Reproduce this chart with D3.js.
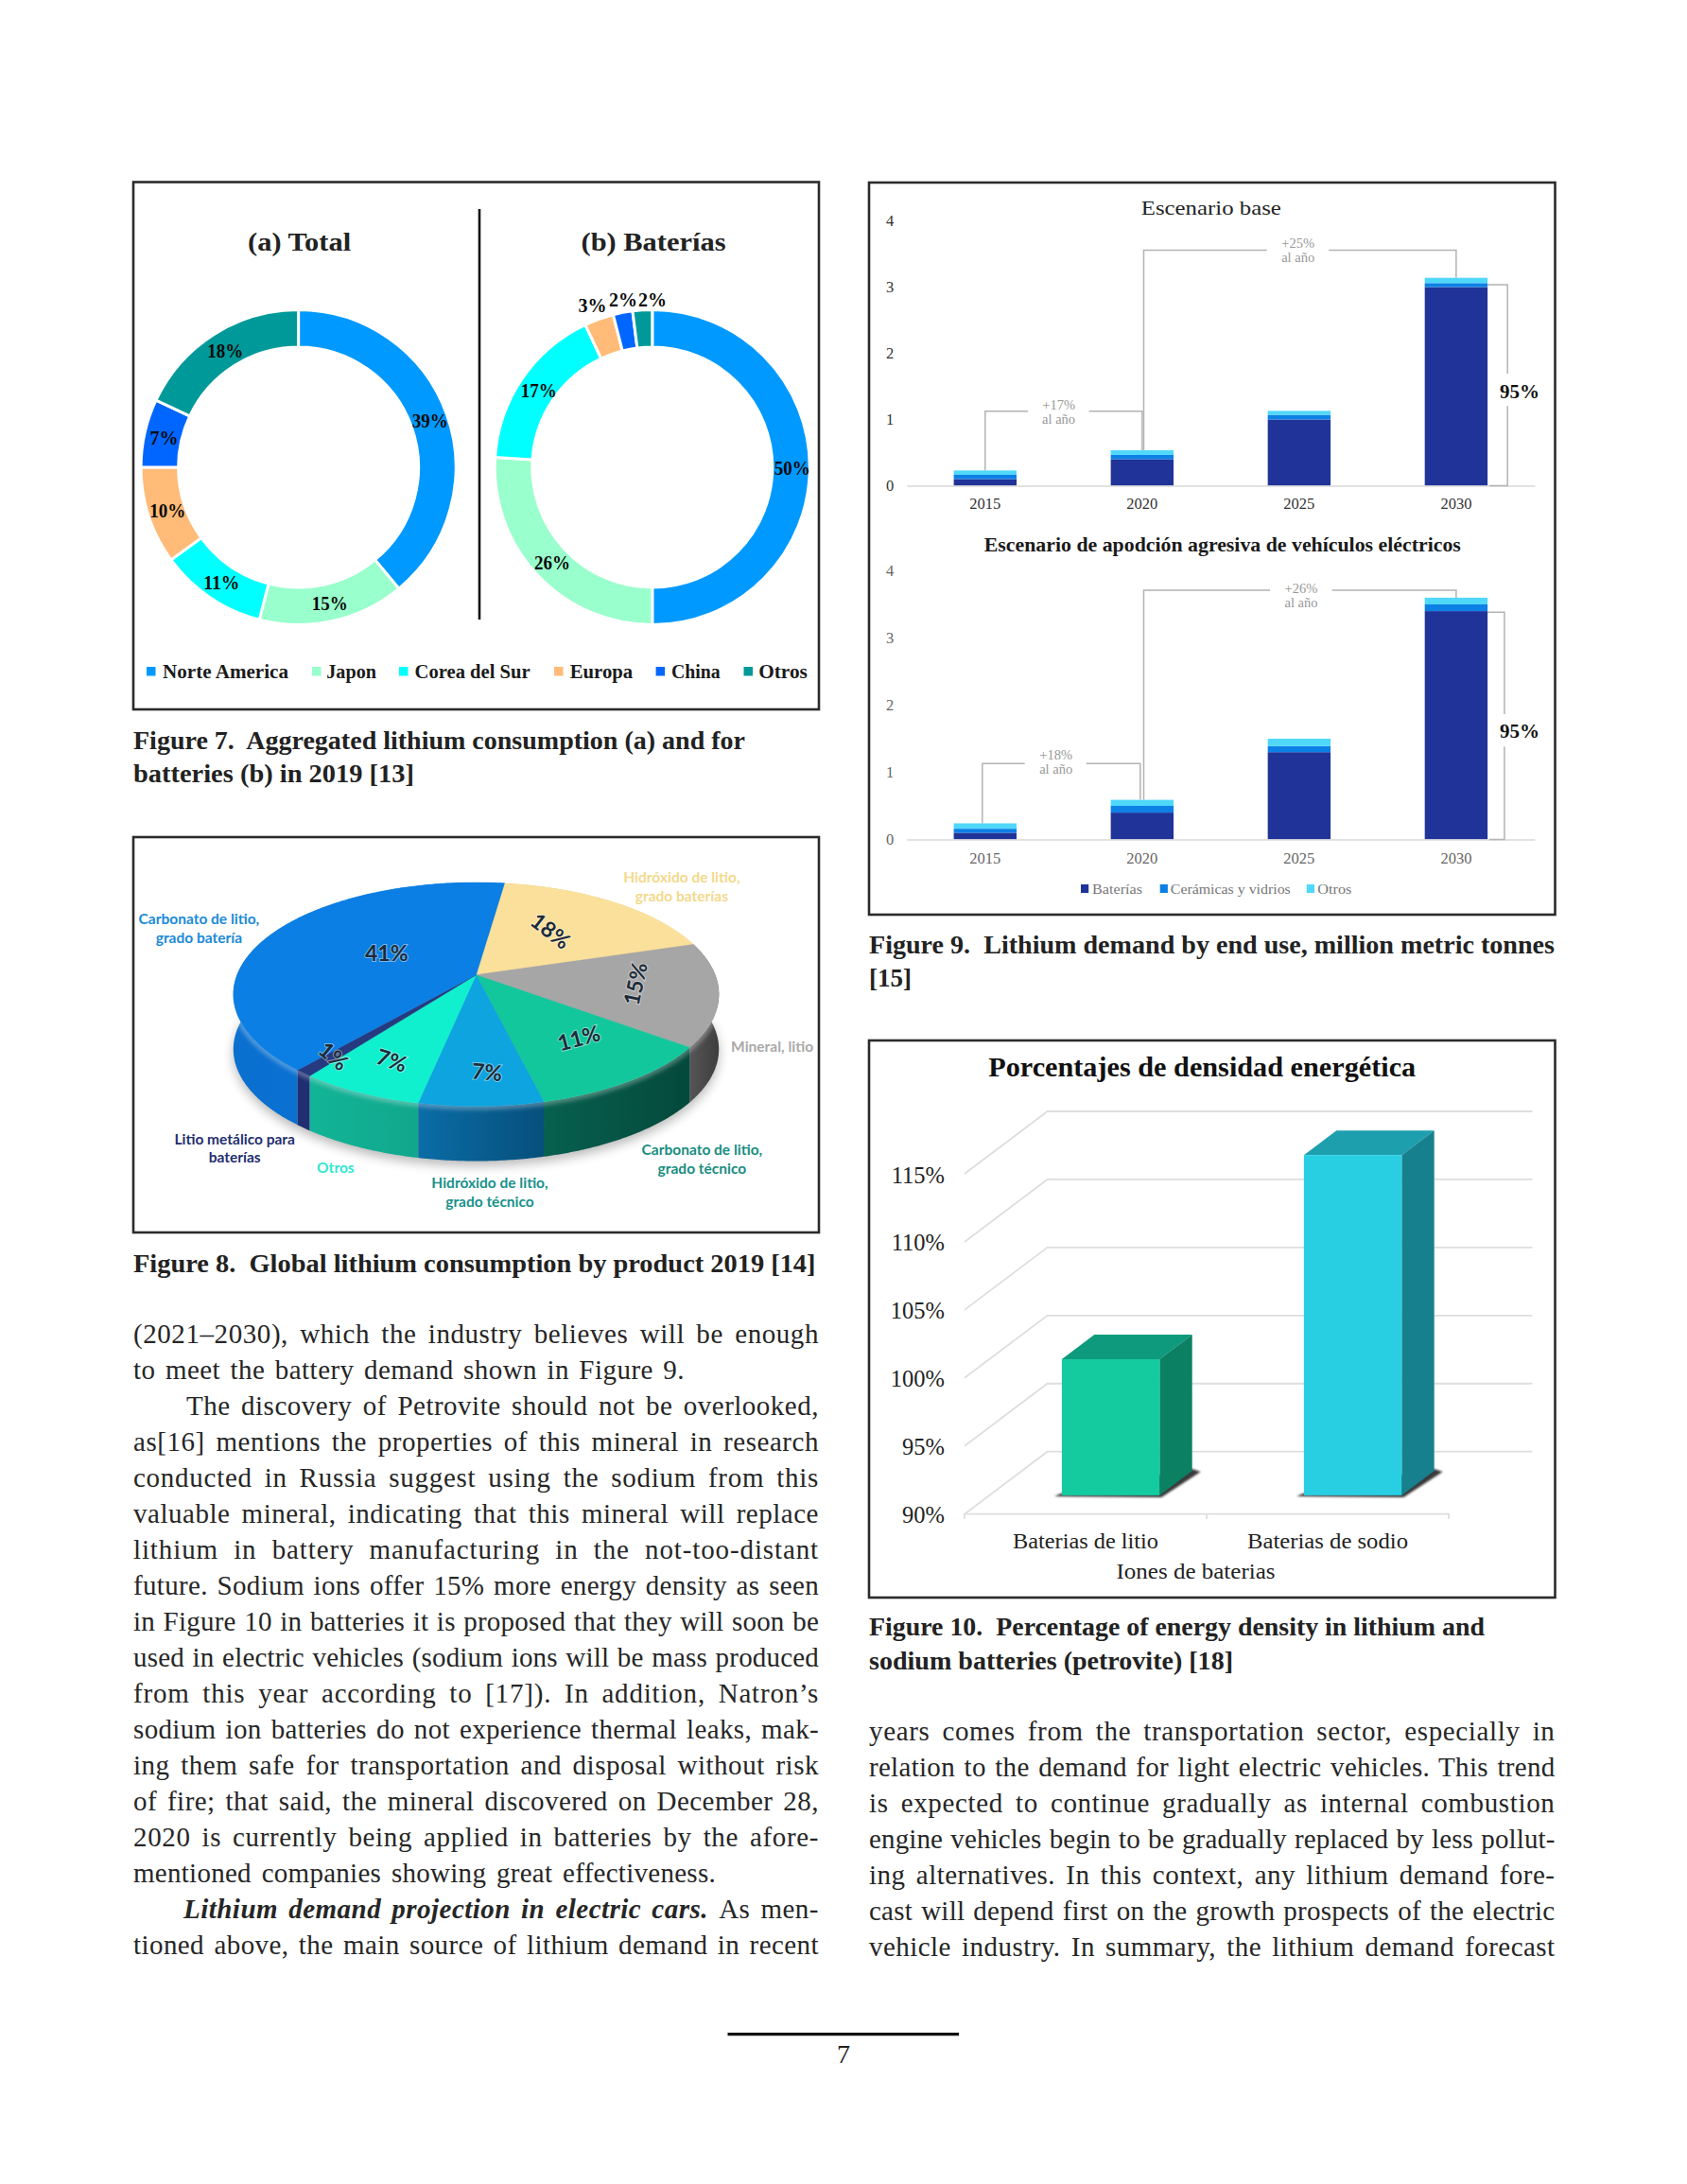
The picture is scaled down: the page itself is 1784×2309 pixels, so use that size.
<!DOCTYPE html>
<html><head><meta charset="utf-8">
<script src="https://cdn.jsdelivr.net/npm/d3@7/dist/d3.min.js"></script>
<style>html,body{margin:0;padding:0;background:#fff}svg{display:block}text{font-family:"Liberation Serif",serif;white-space:pre}</style>
</head><body><svg id="p" width="1784" height="2309" xmlns="http://www.w3.org/2000/svg"></svg>
<script>
// ---------- data ----------
const regions = ["Norte America","Japon","Corea del Sur","Europa","China","Otros"];
const totalShare = [39,15,11,10,7,18];
const batteryShare = [50,26,17,3,2,2];
const products = ["Hidróxido de litio, grado baterías","Mineral, litio","Carbonato de litio, grado técnico","Hidróxido de litio, grado técnico","Otros","Litio metálico para baterías","Carbonato de litio, grado batería"];
const productShare = [18,15,11,7,7,1,41];
const years = ["2015","2020","2025","2030"];
const endUses = ["Baterías","Cerámicas y vidrios","Otros"];
const baseBaterias = [0.1,0.4,1.0,3.0];
const baseCeramicas = [0.065,0.065,0.07,0.06];
const baseOtros = [0.065,0.07,0.06,0.08];
const aggrBaterias = [0.1,0.4,1.3,3.4];
const aggrCeramicas = [0.06,0.1,0.09,0.1];
const aggrOtros = [0.08,0.09,0.11,0.1];
const ionTypes = ["Baterias de litio","Baterias de sodio"];
const ionDensity = [100,115];
const densityTicks = [90,95,100,105,110,115];
const bodyLeft = [
 "(2021–2030), which the industry believes will be enough",
 "to meet the battery demand shown in Figure 9.",
 "The discovery of Petrovite should not be overlooked,",
 "as[16] mentions the properties of this mineral in research",
 "conducted in Russia suggest using the sodium from this",
 "valuable mineral, indicating that this mineral will replace",
 "lithium in battery manufacturing in the not-too-distant",
 "future. Sodium ions offer 15% more energy density as seen",
 "in Figure 10 in batteries it is proposed that they will soon be",
 "used in electric vehicles (sodium ions will be mass produced",
 "from this year according to [17]). In addition, Natron’s",
 "sodium ion batteries do not experience thermal leaks, mak-",
 "ing them safe for transportation and disposal without risk",
 "of fire; that said, the mineral discovered on December 28,",
 "2020 is currently being applied in batteries by the afore-",
 "mentioned companies showing great effectiveness.",
 "@As men-",
 "tioned above, the main source of lithium demand in recent"];
const bodyRight = [
 "years comes from the transportation sector, especially in",
 "relation to the demand for light electric vehicles. This trend",
 "is expected to continue gradually as internal combustion",
 "engine vehicles begin to be gradually replaced by less pollut-",
 "ing alternatives. In this context, any lithium demand fore-",
 "cast will depend first on the growth prospects of the electric",
 "vehicle industry. In summary, the lithium demand forecast"];

// ---------- helpers ----------
const svg = d3.select("#p");
const defs = svg.append("defs");
const blur = (id,s)=>defs.append("filter").attr("id",id).attr("x","-20%").attr("y","-20%").attr("width","140%").attr("height","140%").append("feGaussianBlur").attr("stdDeviation",s);
blur("b1",1); blur("b2",2); blur("b6",6);
function T(x,y,s,o={}){
  const t=svg.append("text").attr("x",x).attr("y",y).text(s)
   .attr("font-size",o.size||16).attr("fill",o.fill||"#111").attr("text-anchor",o.anchor||"start");
  if(o.weight)t.attr("font-weight",o.weight);
  if(o.family)t.style("font-family",o.family);
  if(o.w)t.attr("textLength",o.w).attr("lengthAdjust","spacingAndGlyphs");
  return t;
}
const box=(x0,y0,x1,y1)=>svg.append("rect").attr("x",x0).attr("y",y0).attr("width",x1-x0).attr("height",y1-y0).attr("fill","none").attr("stroke","#2b2b2b").attr("stroke-width",2.6);
const LINE=d3.line();

// ---------- Figure 7 ----------
box(141,192.5,866,750);
svg.append("line").attr("x1",507).attr("x2",507).attr("y1",221).attr("y2",655).attr("stroke","#111").attr("stroke-width",2.6);
const regionColor=d3.scaleOrdinal(regions,["#0099ff","#99ffcc","#00ffff","#ffbb77","#0066ff","#009999"]);
const donutPie=d3.pie().sort(null);
const donutArc=d3.arc().innerRadius(127).outerRadius(166.5);
function donut(cx,cy,vals,shift){
  const g=svg.append("g").attr("transform",`translate(${cx},${cy})`);
  const arcs=donutPie(vals);
  g.selectAll("path").data(arcs).join("path").attr("d",donutArc)
    .attr("fill",(d,i)=>regionColor(regions[i])).attr("stroke","#fff").attr("stroke-width",3);
  arcs.forEach((d,i)=>{
    let [x,y]=donutArc.centroid(d);
    if(shift&&shift[i]){x=shift[i][0];y=shift[i][1];}
    T(cx+x+1.2,cy+y+8,d.data+"%",{size:20,weight:"bold",anchor:"middle",fill:"#0a0a0a",w:d.data>=10?38:0});
  });
}
donut(315.6,494,totalShare);
donut(689.8,494,batteryShare,{3:[-64.6,-172],4:[-32,-178],5:[-1,-178]});
T(316.6,264.5,"(a) Total",{size:28,weight:"bold",anchor:"middle",w:109,fill:"#222"});
T(691,264.5,"(b) Baterías",{size:28,weight:"bold",anchor:"middle",w:153,fill:"#222"});
const legSq=[155,330,422,586,693.6,786.5], legTx=[172,345.3,438.6,602.7,709.9,802.2], legW=[133,52.6,122,66.5,51.7,51.7];
regions.forEach((r,i)=>{
  svg.append("rect").attr("x",legSq[i]).attr("y",705).attr("width",9.5).attr("height",9.5).attr("fill",regionColor(r));
  T(legTx[i],717,r,{size:20,weight:"bold",w:legW[i],fill:"#1a1a1a"});
});
T(141,792,"Figure 7.  Aggregated lithium consumption (a) and for",{size:27,weight:"bold",w:647,fill:"#222"});
T(141,827,"batteries (b) in 2019 [13]",{size:27,weight:"bold",w:297,fill:"#222"});

// ---------- Figure 8 ----------
box(141,885,866,1303);
const P={x0:503.5,y0:1030.7,A:252.8,B:114.7,k:0.1737,depth:58,start:8*Math.PI/180};
const project=(a,r=1)=>{const u=Math.sin(a)*r,v=Math.cos(a)*r,w=1+P.k*v;return [P.x0+P.A*u/w,P.y0-P.B*v/w];};
const pieA=d3.pie().sort(null).startAngle(P.start).endAngle(P.start+2*Math.PI)(productShare);
const topCol=["#fbe09b","#a6a6a6","#13c79c","#0da4e0","#10efce","#263a80","#0b7fe3"];
const sideCol=[["#d8bf80","#d8bf80"],["#555","#3e3e3e"],["#04493b","#07604f"],["#064f7c","#0a6da6"],["#12b497","#10a78d"],["#1f2f72","#1f2f72"],["#0b78da","#0a6fcf"]];
const rim=(a0,a1)=>d3.range(a0,a1,0.01).concat([a1]).map(a=>project(a));
svg.append("path").attr("d",LINE(rim(0,2*Math.PI))+"Z").attr("transform",`translate(0,${P.depth+5})`).attr("fill","#000").attr("opacity",.28).attr("filter","url(#b6)");
const sideOrder=pieA.map((d,i)=>i).sort((a,b)=>Math.cos((pieA[b].startAngle+pieA[b].endAngle)/2)<Math.cos((pieA[a].startAngle+pieA[a].endAngle)/2)?-1:1);
sideOrder.forEach(i=>{
  const d=pieA[i],r=rim(d.startAngle,d.endAngle);
  const low=r.map(p=>[p[0],p[1]+P.depth]).reverse();
  const g=defs.append("linearGradient").attr("id","side"+i);
  const mirrored=i===2||i===3||i===6;
  g.append("stop").attr("offset","0").attr("stop-color",sideCol[i][mirrored?1:0]);
  g.append("stop").attr("offset","1").attr("stop-color",sideCol[i][mirrored?0:1]);
  svg.append("path").attr("d",LINE(r.concat(low))+"Z").attr("fill",`url(#side${i})`);
});
svg.append("path").attr("d",LINE(rim(105*Math.PI/180,262*Math.PI/180))).attr("fill","none").attr("stroke","#fff").attr("stroke-opacity",.28).attr("stroke-width",8).attr("filter","url(#b2)");
pieA.forEach((d,i)=>{
  const pts=[project(0,0)].concat(rim(d.startAngle,d.endAngle));
  svg.append("path").attr("d",LINE(pts)+"Z").attr("fill",topCol[i]).attr("stroke",topCol[i]).attr("stroke-width",.4);
});
const pieLabelR=[.53,.67,.67,.777,.77,.85,.43], pieLabelRot=[38,-78,-15,5,18,40,0];
const pieLabelNudge=[[-4,-3],[-3,-4],[4,-4],[6,0],[0,-1],[-1,0],[0,-3]];
pieA.forEach((d,i)=>{
  const [x,y]=project((d.startAngle+d.endAngle)/2,pieLabelR[i]);
  svg.append("text").attr("transform",`translate(${x+1.5+pieLabelNudge[i][0]},${y+pieLabelNudge[i][1]}) rotate(${pieLabelRot[i]})`).attr("y",8).text(d.data+"%")
    .attr("font-size",23).attr("font-weight","bold").attr("text-anchor","middle").style("font-family","Lato").attr("fill","#1c2b3a")
    .attr("stroke","#fff").attr("stroke-opacity",.45).attr("stroke-width",2).style("paint-order","stroke");
});
const pieNames=[
 {l:["Hidróxido de litio,","grado baterías"],x:720.9,y:[928,948],c:"#f3d98c"},
 {l:["Mineral, litio"],x:816.6,y:[1106.7],c:"#a9a9a9"},
 {l:["Carbonato de litio,","grado técnico"],x:742.4,y:[1215.7,1235.7],c:"#178d80"},
 {l:["Hidróxido de litio,","grado técnico"],x:518,y:[1250.7,1270.7],c:"#18918b"},
 {l:["Otros"],x:354.9,y:[1235],c:"#2fe8cf"},
 {l:["Litio metálico para","baterías"],x:248.2,y:[1204.7,1224],c:"#1f2f70"},
 {l:["Carbonato de litio,","grado batería"],x:210.4,y:[971.7,991.7],c:"#1a8ad8"}];
pieNames.forEach(n=>n.l.forEach((s,j)=>T(n.x,n.y[j]+5.4,s,{size:15.5,weight:"bold",anchor:"middle",family:"Lato",fill:n.c})));
T(141,1345,"Figure 8.  Global lithium consumption by product 2019 [14]",{size:27,weight:"bold",w:721.5,fill:"#222"});

// ---------- Figure 9 ----------
box(919,193,1644.5,967);
const endCol=d3.scaleOrdinal(endUses,["#203399","#0d80e6","#50d8fa"]);
const xYear=d3.scaleBand(years,[958.8,1622.9]).paddingInner(.6).paddingOuter(.3);
function stacked(y0,unit,series,dark,br){
  const y=d3.scaleLinear([0,4],[y0,y0-4*unit]);
  const rows=years.map((yr,i)=>({yr,"Baterías":series[0][i],"Cerámicas y vidrios":series[1][i],"Otros":series[2][i]}));
  const layers=d3.stack().keys(endUses)(rows);
  layers.forEach(l=>svg.append("g").selectAll("rect").data(l).join("rect")
    .attr("x",d=>xYear(d.data.yr)).attr("width",xYear.bandwidth())
    .attr("y",d=>y(d[1])).attr("height",d=>y(d[0])-y(d[1])).attr("fill",endCol(l.key)));
  const txt=dark?"#333":"#666";
  const ax=svg.append("g").attr("transform",`translate(0,${y0})`).call(d3.axisBottom(xYear).tickSize(0).tickPadding(br.tp));
  ax.select(".domain").attr("stroke","#d9d9d9").attr("stroke-width",1.6);
  ax.selectAll("text").attr("font-size",16.5).attr("fill",txt).style("font-family","Liberation Serif");
  const ay=svg.append("g").attr("transform","translate(946,0)").call(d3.axisLeft(y).ticks(4).tickFormat(d3.format("d")).tickSize(0).tickPadding(0));
  ay.select(".domain").remove();
  ay.selectAll("text").attr("font-size",16.5).attr("fill",txt).attr("text-anchor","middle").attr("dx",-5).style("font-family","Liberation Serif");
  const cx=yr=>xYear(yr)+xYear.bandwidth()/2;
  const tops=i=>series[0][i]+series[1][i]+series[2][i];
  const gray={fill:"none",stroke:"#b3b3b3","stroke-width":1.5};
  const pth=pts=>{const p=svg.append("path").attr("d",LINE(pts));Object.entries(gray).forEach(([k,v])=>p.attr(k,v));};
  pth([[cx("2015")+br.ls,y(tops(0))],[cx("2015")+br.ls,br.y1],[br.g1[0],br.y1]]);
  pth([[br.g1[1],br.y1],[cx("2020")+br.rs,br.y1],[cx("2020")+br.rs,y(tops(1))]]);
  pth([[1209.5,y(tops(1))],[1209.5,br.y2],[br.g2[0],br.y2]]);
  pth([[br.g2[1],br.y2],[cx("2030"),br.y2],[cx("2030"),y(tops(3))]]);
  const re=xYear("2030")+xYear.bandwidth();
  pth([[re,br.p1],[br.px,br.p1],[br.px,br.pg[0]]]);
  pth([[br.px,br.pg[1]],[br.px,y0],[re+2,y0]]);
  const g={size:14.5,anchor:"middle",fill:"#999"};
  T(br.t1[0],br.t1[1]+5,br.l1,g); T(br.t1[0],br.t1[1]+20,"al año",g);
  T(br.t2[0],br.t2[1]+5,br.l2,g); T(br.t2[0],br.t2[1]+20,"al año",g);
  T(1607,br.py+7,"95%",{size:21,weight:"bold",anchor:"middle",fill:"#111"});
}
stacked(513.5,70,[baseBaterias,baseCeramicas,baseOtros],true,
 {tp:12.5,y1:434.7,g1:[1087,1151.6],ls:0,rs:0,y2:264.5,g2:[1339.7,1405.2],p1:301,px:1594.2,pg:[395,429.3],py:414.3,
  t1:[1119.6,428],t2:[1372.7,256.5],l1:"+17%",l2:"+25%"});
stacked(887.5,71,[aggrBaterias,aggrCeramicas,aggrOtros],false,
 {tp:13.5,y1:807.3,g1:[1083.7,1148.8],ls:-3,rs:-2,y2:624,g2:[1343,1408.6],p1:647.3,px:1590.9,pg:[755,789.3],py:773.3,
  t1:[1116.7,798],t2:[1376,621.7],l1:"+18%",l2:"+26%"});
T(1280.8,226.5,"Escenario base",{size:22,anchor:"middle",w:148,fill:"#222"});
T(1292.8,583,"Escenario de apodción agresiva de vehículos eléctricos",{size:21,weight:"bold",anchor:"middle",w:504,fill:"#1a1a1a"});
const endSq=[1143,1226.7,1381.8], endTx=[1155,1237.8,1393.3], endW=[53,127,36];
endUses.forEach((e,i)=>{
  svg.append("rect").attr("x",endSq[i]).attr("y",935).attr("width",8.2).attr("height",9).attr("fill",endCol(e));
  T(endTx[i],944.5,e,{size:15.5,w:endW[i],fill:"#777"});
});
T(919,1007.5,"Figure 9.  Lithium demand by end use, million metric tonnes",{size:27,weight:"bold",w:725,fill:"#222"});
T(919,1042.5,"[15]",{size:27,weight:"bold",fill:"#222"});

// ---------- Figure 10 ----------
box(919,1100,1644.5,1689);
const yD=d3.scaleLinear([90,115],[1600.7,1241]);
const xIon=d3.scaleBand(ionTypes,[1020,1532]);
const wall={dx:87.6,dy:66,right:1620.5};
densityTicks.forEach(v=>{
  const y=yD(v);
  svg.append("path").attr("d",LINE([[1020,y],[1020+wall.dx,y-wall.dy],[wall.right,y-wall.dy]])).attr("fill","none").attr("stroke","#dedede").attr("stroke-width",1.8);
  T(999,y+9.5,v+"%",{size:24.5,anchor:"end",fill:"#222"});
});
svg.append("path").attr("d",LINE([[1020,1606],[1020,1600.7],[1532,1600.7],[1532,1606]])).attr("fill","none").attr("stroke","#dedede").attr("stroke-width",1.8);
svg.append("line").attr("x1",1276).attr("x2",1276).attr("y1",1600.7).attr("y2",1606).attr("stroke","#dedede").attr("stroke-width",1.8);
const ionCol=[{f:"#14cba0",t:"#0d9a7d",s:"#0b8063"},{f:"#28cfe3",t:"#1d9fae",s:"#17808f"}];
const bar={w:103.4,shift:26.6,lift:19.8,dx:34.4,dy:26};
ionTypes.forEach((n,i)=>{
  const xl=xIon(n)+xIon.bandwidth()/2+bar.shift-bar.w/2, xr=xl+bar.w;
  const yb=yD(90)-bar.lift, yt=yD(ionDensity[i])-bar.lift;
  svg.append("path").attr("d",LINE([[xl-8,yb+1],[xl-1,yb-2],[xr+bar.dx,yb-bar.dy-2],[xr+bar.dx+9,yb-bar.dy+1],[xr+2,yb+2]])+"Z").attr("fill","#3a3a3a").attr("filter","url(#b1)");
  svg.append("path").attr("d",LINE([[xl,yt],[xl+bar.dx,yt-bar.dy],[xr+bar.dx,yt-bar.dy],[xr,yt]])+"Z").attr("fill",ionCol[i].t);
  svg.append("path").attr("d",LINE([[xr,yt],[xr+bar.dx,yt-bar.dy],[xr+bar.dx,yb-bar.dy],[xr,yb]])+"Z").attr("fill",ionCol[i].s);
  svg.append("rect").attr("x",xl).attr("y",yt).attr("width",bar.w).attr("height",yb-yt).attr("fill",ionCol[i].f);
  T(xIon(n)+xIon.bandwidth()/2,1636.5,n,{size:23,anchor:"middle",w:i?170:154,fill:"#222"});
});
T(1264.5,1668.5,"Iones de baterias",{size:23,anchor:"middle",w:168,fill:"#222"});
T(1271.2,1137.5,"Porcentajes de densidad energética",{size:29,weight:"bold",anchor:"middle",w:452,fill:"#111"});
T(919,1729,"Figure 10.  Percentage of energy density in lithium and",{size:27,weight:"bold",w:651,fill:"#222"});
T(919,1765,"sodium batteries (petrovite) [18]",{size:27,weight:"bold",w:385,fill:"#222"});

// ---------- Body text ----------
function bodyLine(x,y,s,W){
  const t=svg.append("text").attr("x",x).attr("y",y).attr("font-size",29).attr("fill","#262626");
  if(s[0]==="@"){
    t.append("tspan").attr("font-weight","bold").attr("font-style","italic").text("Lithium demand projection in electric cars. ");
    t.append("tspan").text(s.slice(1));
  } else t.text(s);
  const txt=t.text(),len=txt.length,sp=(txt.match(/ /g)||[]).length;
  const slack=W-t.node().getComputedTextLength();
  t.style("letter-spacing",(slack<0?slack*0.8:slack*0.5)/len+"px");
  const n=t.node().getComputedTextLength();
  t.style("word-spacing",(W-n)/sp+"px");
}
const X0=141,X1=866,Y0=1419.5,LH=38;
const natural={1:583,15:616};
const indent={2:197,16:194};
bodyLeft.forEach((s,i)=>{const x=indent[i]||X0;bodyLine(x,Y0+i*LH,s,natural[i]||X1-x);});
bodyRight.forEach((s,i)=>bodyLine(919,1840+i*LH,s,725.5));
svg.append("line").attr("x1",769.5).attr("x2",1014).attr("y1",2150.7).attr("y2",2150.7).attr("stroke","#111").attr("stroke-width",3.2);
T(892,2181,"7",{size:28,anchor:"middle",fill:"#222"});
</script></body></html>
